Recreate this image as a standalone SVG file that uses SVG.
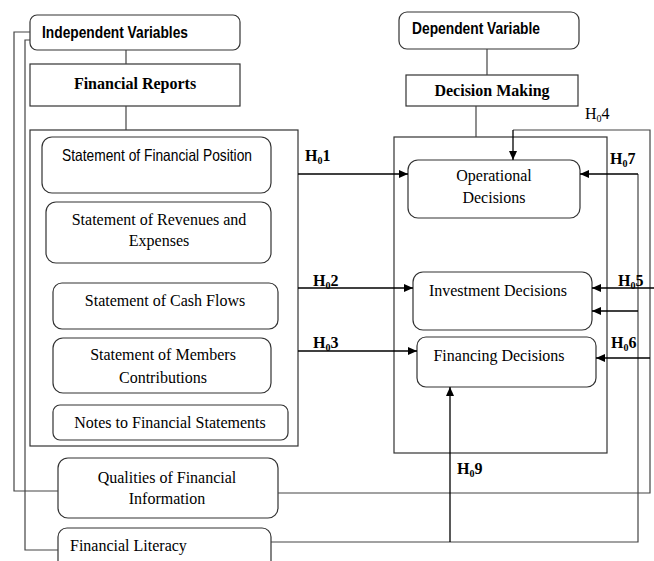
<svg xmlns="http://www.w3.org/2000/svg" width="654" height="561" viewBox="0 0 654 561">
<style>
.box{fill:#fff;stroke:#333;stroke-width:1.2}
.grp{fill:none;stroke:#333;stroke-width:1.2}
.ln{fill:none;stroke:#444;stroke-width:1.2}
.ar{fill:none;stroke:#000;stroke-width:1.3}
.sb{font-family:"Liberation Sans Narrow","Liberation Sans",Arial,sans-serif;font-weight:bold;font-size:16.5px;fill:#000}
.sn{font-family:"Liberation Sans Narrow","Liberation Sans",Arial,sans-serif;font-size:16.5px;fill:#000}
.tr{font-family:"Liberation Serif","Times New Roman",serif;font-size:16px;fill:#000}
.tb{font-family:"Liberation Serif","Times New Roman",serif;font-size:16px;font-weight:bold;fill:#000}
.sub{font-size:10px}
</style>
<defs>
<marker id="ah" markerWidth="9" markerHeight="8" refX="9" refY="4" orient="auto" markerUnits="userSpaceOnUse">
<path d="M0,0 L9,4 L0,8 z" fill="#000"/>
</marker>
</defs>
<g id="independent-variables">
<rect class="box" x="30" y="15" width="210" height="35" rx="7"/>
<text class="sb" x="42" y="38" textLength="146" lengthAdjust="spacingAndGlyphs">Independent Variables</text>
</g>
<g id="financial-reports">
<rect class="box" x="30" y="64" width="210" height="42"/>
<text class="tb" x="135" y="89" text-anchor="middle">Financial Reports</text>
</g>
<g id="reports-group">
<rect class="grp" x="30" y="130" width="268" height="316"/>
</g>
<g id="sofp">
<rect class="box" x="42" y="137" width="229" height="56" rx="10"/>
<text class="sn" x="62" y="161" textLength="190" lengthAdjust="spacingAndGlyphs">Statement of Financial Position</text>
</g>
<g id="sore">
<rect class="box" x="46" y="202" width="225" height="61" rx="10"/>
<text class="tr" x="159" y="225" text-anchor="middle">Statement of Revenues and</text>
<text class="tr" x="159" y="246" text-anchor="middle">Expenses</text>
</g>
<g id="socf">
<rect class="box" x="53" y="283" width="225" height="46" rx="9"/>
<text class="tr" x="165" y="306" text-anchor="middle">Statement of Cash Flows</text>
</g>
<g id="somc">
<rect class="box" x="53" y="338" width="218" height="55" rx="10"/>
<text class="tr" x="163" y="360" text-anchor="middle">Statement of Members</text>
<text class="tr" x="163" y="383" text-anchor="middle">Contributions</text>
</g>
<g id="notes">
<rect class="box" x="53" y="405" width="235" height="35" rx="7"/>
<text class="tr" x="170" y="428" text-anchor="middle">Notes to Financial Statements</text>
</g>
<g id="qualities">
<rect class="box" x="58" y="458" width="220" height="60" rx="10"/>
<text class="tr" x="167" y="483" text-anchor="middle">Qualities of Financial</text>
<text class="tr" x="167" y="504" text-anchor="middle">Information</text>
</g>
<g id="literacy">
<rect class="box" x="58" y="528" width="213" height="45" rx="9"/>
<text class="tr" x="70" y="551">Financial Literacy</text>
</g>
<g id="dependent-variable">
<rect class="box" x="399" y="12" width="180" height="37" rx="8"/>
<text class="sb" x="412" y="34" textLength="128" lengthAdjust="spacingAndGlyphs">Dependent Variable</text>
</g>
<g id="decision-making">
<rect class="box" x="406" y="75" width="172" height="31"/>
<text class="tb" x="492" y="96" text-anchor="middle">Decision Making</text>
</g>
<g id="decisions-group">
<rect class="grp" x="394" y="137" width="213" height="316"/>
</g>
<g id="operational">
<rect class="box" x="408" y="160" width="172" height="58" rx="10"/>
<text class="tr" x="494" y="181" text-anchor="middle">Operational</text>
<text class="tr" x="494" y="203" text-anchor="middle">Decisions</text>
</g>
<g id="investment">
<rect class="box" x="413" y="272" width="179" height="58" rx="10"/>
<text class="tr" x="498" y="296" text-anchor="middle">Investment Decisions</text>
</g>
<g id="financing">
<rect class="box" x="417" y="337" width="179" height="50" rx="9"/>
<text class="tr" x="499" y="361" text-anchor="middle">Financing Decisions</text>
</g>
<g id="connectors">
<path class="ln" d="M126,50 V64"/>
<path class="ln" d="M126,106 V130"/>
<path class="ln" d="M487,49 V75"/>
<path class="ln" d="M476,106 V137"/>
<path class="ln" d="M30,32 H14 V491 H58"/>
<path class="ln" d="M30,40 H25 V550 H58"/>
<path class="ln" d="M278,493 H650 V130 H513"/>
<path class="ar" d="M513,130 V160" marker-end="url(#ah)"/>
<path class="ln" d="M271,542 H638 V174"/>
<path class="ar" d="M638,174 H580" marker-end="url(#ah)"/>
<path class="ar" d="M638,311 H592" marker-end="url(#ah)"/>
<path class="ar" d="M654,288 H592" marker-end="url(#ah)"/>
<path class="ar" d="M650,358 H596" marker-end="url(#ah)"/>
<path class="ar" d="M450,542 V387" marker-end="url(#ah)"/>
<path class="ar" d="M298,174 H408" marker-end="url(#ah)"/>
<path class="ar" d="M298,288 H413" marker-end="url(#ah)"/>
<path class="ar" d="M298,351 H417" marker-end="url(#ah)"/>
</g>
<g id="labels">
<text class="tb" x="305" y="161">H<tspan class="sub" dy="3">0</tspan><tspan dy="-3">1</tspan></text>
<text class="tb" x="313" y="286">H<tspan class="sub" dy="3">0</tspan><tspan dy="-3">2</tspan></text>
<text class="tb" x="313" y="348">H<tspan class="sub" dy="3">0</tspan><tspan dy="-3">3</tspan></text>
<text class="tr" x="585" y="119">H<tspan class="sub" dy="3">0</tspan><tspan dy="-3">4</tspan></text>
<text class="tb" x="618" y="286">H<tspan class="sub" dy="3">0</tspan><tspan dy="-3">5</tspan></text>
<text class="tb" x="611" y="348">H<tspan class="sub" dy="3">0</tspan><tspan dy="-3">6</tspan></text>
<text class="tb" x="610" y="164">H<tspan class="sub" dy="3">0</tspan><tspan dy="-3">7</tspan></text>
<text class="tb" x="457" y="474">H<tspan class="sub" dy="3">0</tspan><tspan dy="-3">9</tspan></text>
</g>
</svg>
